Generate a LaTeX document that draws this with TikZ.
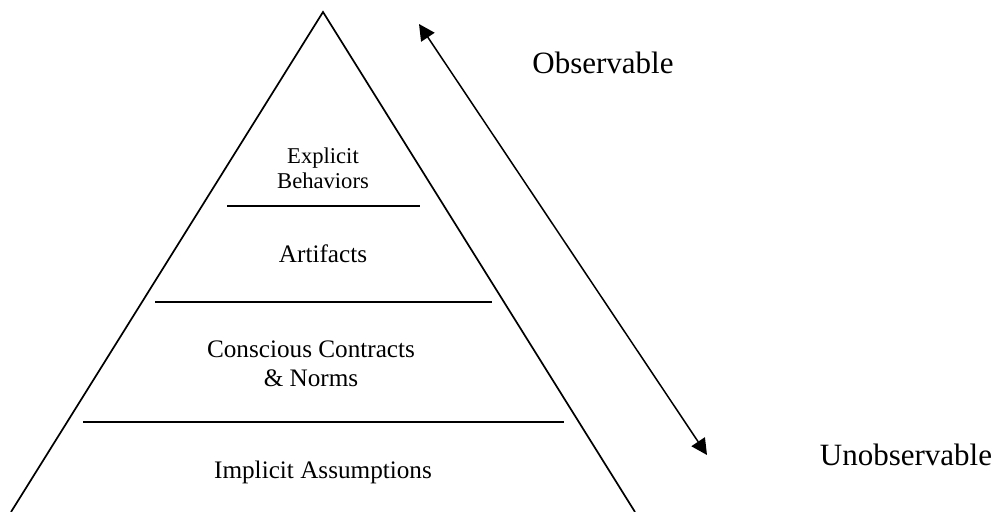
\documentclass[tikz,border=0pt]{standalone}
\usepackage{fontspec}
\setmainfont{Liberation Serif}
\usetikzlibrary{calc}
\usetikzlibrary{arrows.meta}

\begin{document}
\begin{tikzpicture}[x=0.5pt,y=-0.5pt,
  layer/.style={black,line width=0.9pt},
  lbl/.style={inner sep=0pt,align=center,font=\fontsize{12.6}{14.5}\selectfont},
  side/.style={inner sep=0pt,font=\fontsize{15.5}{18}\selectfont}]

\useasboundingbox (0,0) rectangle (1002,512);

\coordinate (T) at (323,12);
\coordinate (L) at (11,512);
\coordinate (R) at (635,512);
\coordinate (U) at (419,24);
\coordinate (V) at (707,455);

\draw[black,line width=0.85pt] (L)--(T)--(R);

\draw[layer] (227,206)--(420,206);
\draw[layer] (155,302)--(492,302);
\draw[layer] (83,422)--(564,422);

\node[lbl,font=\fontsize{11.3}{12.5}\selectfont] (behav) at (323,168) {Explicit\\Behaviors};
\node[lbl] (artif) at (323,254) {Artifacts};
\node[lbl] (norms) at (311,364) {Conscious Contracts\\\& Norms};
\node[lbl] (assum) at (323,472) {Implicit Assumptions};

\draw[black,line width=0.75pt,{Triangle[length=8pt,width=8pt]}-{Triangle[length=8pt,width=8pt]}] (U)--(V);

\node[side] (obs) at (603,63) {Observable};
\node[side] (unobs) at (906,455) {Unobservable};

\end{tikzpicture}
\end{document}
